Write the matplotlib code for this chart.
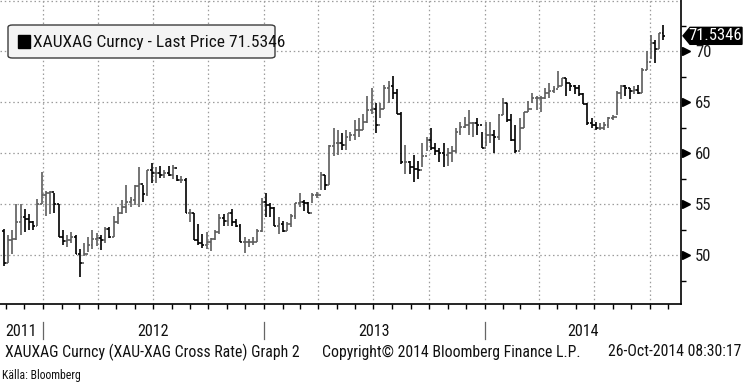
import numpy as np
import pandas as pd
import matplotlib
matplotlib.use("Agg")
import matplotlib.pyplot as plt
import matplotlib.dates as mdates
import matplotlib.transforms as mtransforms
from matplotlib.patches import FancyBboxPatch, Polygon, Rectangle
from matplotlib import font_manager


# weekly bars of the XAU/XAG cross rate, one per Friday
first_week = "2011-10-28"
last_week = "2014-10-24"
first_open = 52.4
last_price = 71.5346

highs = [52.6, 52.0, 52.5, 55.0, 55.0, 54.5, 54.1, 53.4, 55.5, 58.2,
         56.3, 56.3, 56.1, 55.0, 52.5, 52.0, 52.3, 52.0, 50.6, 51.2,
         51.8, 52.5, 52.2, 52.0, 52.8, 52.8, 53.9, 54.7, 55.4, 56.9,
         55.7, 56.9, 58.7, 56.9, 58.4, 59.1, 58.7, 58.8, 58.4, 58.8,
         58.9, 57.9, 57.8, 57.6, 54.5, 54.2, 53.1, 52.1, 52.3, 51.7,
         52.5, 54.1, 54.1, 54.2, 54.5, 53.6, 53.1, 51.8, 51.6, 51.8,
         52.6, 55.6, 56.1, 55.1, 54.7, 53.8, 53.4, 53.3, 54.1, 55.1,
         56.1, 55.4, 55.2, 56.1, 56.2, 58.2, 57.9, 60.8, 62.5, 62.3,
         62.0, 62.3, 62.1, 63.3, 63.5, 63.9, 65.6, 66.4, 64.9, 64.9,
         66.7, 67.1, 67.6, 66.3, 64.1, 60.8, 59.3, 59.8, 59.3, 61.0,
         61.6, 62.5, 61.0, 60.5, 61.0, 60.5, 60.7, 62.5, 63.1, 63.6,
         64.3, 63.1, 63.5, 62.1, 63.1, 63.1, 62.3, 63.9, 65.4, 64.9,
         63.9, 62.8, 63.5, 64.1, 65.1, 65.9, 65.6, 65.6, 66.4, 66.9,
         66.6, 68.1, 67.4, 67.4, 66.9, 66.7, 66.7, 65.9, 64.9, 63.5,
         63.1, 63.0, 63.1, 63.6, 63.8, 66.1, 66.7, 66.7, 66.4, 66.6,
         66.7, 68.4, 70.0, 71.6, 71.1, 71.8, 72.6]

lows = [49.0, 49.3, 50.1, 51.5, 52.0, 52.3, 52.5, 52.5, 52.9, 55.0,
        53.9, 54.1, 54.2, 51.8, 51.0, 50.8, 51.2, 50.1, 47.9, 49.9,
        50.3, 50.6, 50.9, 50.5, 51.2, 51.7, 51.8, 53.1, 54.1, 54.2,
        54.7, 54.9, 54.7, 55.2, 55.8, 57.1, 57.1, 57.6, 57.6, 57.8,
        57.5, 57.3, 57.1, 54.2, 53.3, 51.5, 51.0, 50.7, 50.6, 50.4,
        51.5, 52.1, 52.9, 52.9, 52.9, 52.8, 51.3, 50.2, 50.8, 51.0,
        51.3, 52.3, 53.8, 53.8, 52.9, 52.1, 52.3, 52.4, 52.8, 53.6,
        54.7, 54.4, 54.2, 55.1, 55.6, 56.4, 56.4, 56.9, 59.7, 59.8,
        60.3, 60.3, 61.2, 61.3, 61.6, 62.3, 63.0, 63.9, 62.0, 63.5,
        64.4, 64.9, 65.3, 63.9, 59.0, 58.0, 58.0, 57.2, 57.5, 58.7,
        60.2, 60.3, 59.8, 59.2, 58.7, 58.8, 59.2, 60.0, 61.8, 62.5,
        61.8, 61.6, 61.8, 60.5, 60.7, 61.0, 60.0, 61.3, 63.8, 63.1,
        61.2, 60.0, 60.3, 62.5, 64.1, 64.9, 64.3, 64.1, 65.3, 65.4,
        65.9, 66.4, 66.6, 65.6, 66.1, 65.8, 65.6, 64.8, 62.8, 62.5,
        62.3, 62.3, 62.3, 62.5, 63.3, 63.8, 65.3, 65.6, 65.3, 65.8,
        65.8, 65.9, 68.2, 69.3, 68.9, 70.2, 71.1]

closes = [49.3, 51.5, 51.6, 53.3, 53.8, 53.6, 53.3, 52.9, 55.0, 55.9,
          56.1, 56.2, 55.0, 51.8, 51.4, 51.5, 51.8, 50.1, 49.3, 50.1,
          51.0, 51.6, 51.7, 51.5, 52.6, 51.8, 53.3, 54.2, 54.7, 55.2,
          55.4, 56.8, 57.0, 56.0, 58.4, 58.1, 58.1, 57.9, 58.1, 57.9,
          58.6, 57.4, 57.4, 54.2, 54.2, 51.5, 51.2, 51.0, 51.3, 51.6,
          52.3, 53.7, 53.4, 54.2, 53.3, 52.9, 51.3, 51.3, 51.3, 51.3,
          52.4, 55.2, 54.9, 54.6, 52.9, 53.1, 52.4, 53.1, 53.9, 55.1,
          55.2, 55.1, 54.2, 55.9, 55.9, 57.9, 56.9, 60.7, 61.0, 61.0,
          60.8, 61.6, 61.8, 62.3, 62.3, 63.1, 64.3, 64.4, 62.8, 64.4,
          66.4, 66.6, 65.9, 63.9, 59.2, 59.2, 58.7, 58.5, 58.4, 59.7,
          61.3, 60.5, 60.2, 60.0, 59.8, 60.0, 60.2, 62.1, 62.6, 62.8,
          63.0, 63.0, 62.8, 60.5, 61.8, 61.8, 61.6, 63.8, 64.9, 63.3,
          61.3, 60.2, 62.5, 64.1, 64.4, 65.4, 65.4, 65.4, 65.9, 66.1,
          66.3, 66.6, 67.4, 66.9, 66.6, 66.4, 65.8, 64.8, 63.0, 62.8,
          62.5, 62.5, 62.8, 63.5, 63.6, 65.9, 66.6, 66.4, 66.1, 66.2,
          65.9, 68.2, 69.0, 70.8, 70.2, 71.8, 71.53]

year_labels = ["2011", "2012", "2013", "2014"]
legend_text = "XAUXAG Curncy - Last Price 71.5346"
footer_left = "XAUXAG Curncy (XAU-XAG Cross Rate) Graph 2"
footer_mid = "Copyright\u00a9 2014 Bloomberg Finance L.P."
footer_right = "26-Oct-2014 08:30:17"
source_text = "Källa: Bloomberg"


def pick_font(names):
    installed = {f.name for f in font_manager.fontManager.ttflist}
    for name in names:
        if name in installed:
            return name
    return "DejaVu Sans"


narrow = pick_font(["Liberation Sans Narrow", "Roboto Condensed", "Open Sans Condensed",
                    "Arial Narrow", "Liberation Sans"])

W, H = 747, 382
fig = plt.figure(figsize=(W / 100, H / 100), dpi=100)
fig.patch.set_facecolor("white")


def fx(px):
    return px / W


def fy(py):
    return 1 - py / H


ax = fig.add_axes([0, fy(304), fx(681), 304 / H])
ax.set_facecolor("white")

weeks = pd.date_range(first_week, last_week, freq="W-FRI")
x = mdates.date2num(weeks.to_pydatetime())
highs = np.array(highs)
lows = np.array(lows)
closes = np.array(closes)
opens = np.concatenate([[first_open], closes[:-1]])
colors = np.where(closes >= opens, "#5c5c5c", "#000000")

half = 3.2  # days, length of open/close ticks
ax.vlines(x, lows, highs, colors=colors, lw=1.2)
ax.hlines(opens, x - half, x, colors=colors, lw=1.2)
ax.hlines(closes, x, x + half, colors=colors, lw=1.2)

ax.set_xlim(mdates.datestr2num("2011-10-22"), mdates.datestr2num("2014-11-22"))
ax.set_ylim(45.23, 75.05)

# dotted grid
grid_kw = dict(color="#9c9c9c", lw=0.9, ls=(0, (1.2, 2.2)), zorder=0)
for level in range(50, 80, 5):
    ax.axhline(level, **grid_kw)
quarters = pd.date_range("2012-01-01", "2014-10-01", freq="QS")
for q in mdates.date2num(quarters.to_pydatetime()):
    ax.axvline(q, **grid_kw)

for side in ["left", "top"]:
    ax.spines[side].set_visible(False)
for side in ["right", "bottom"]:
    ax.spines[side].set_color("black")
    ax.spines[side].set_linewidth(1.2)

ax.xaxis.set_major_locator(mdates.MonthLocator())
ax.tick_params(axis="x", which="major", length=3.5, width=1, direction="out",
               color="black", labelbottom=False)

ax.yaxis.tick_right()
ax.set_yticks([50, 55, 60, 65, 70])
ax.set_yticks(np.arange(47.5, 75, 5), minor=True)
ax.tick_params(axis="y", which="major", length=0, pad=10, labelsize=12,
               labelcolor="#1a1a1a")
ax.tick_params(axis="y", which="minor", length=3.5, width=1, color="black",
               direction="out")
for lab in ax.get_yticklabels():
    lab.set_fontfamily(narrow)

# triangle markers at the major ticks
tri_tr = mtransforms.blended_transform_factory(ax.transAxes, ax.transData)
ax.plot(np.full(5, 1 + 5.0 / 681), [50, 55, 60, 65, 70], ls="none", marker=">",
        ms=5.5, color="black", transform=tri_tr, clip_on=False)

# last price flag
to_fig = fig.transFigure.inverted()
xd = ax.transAxes.transform((1, 0))[0]
yd = ax.transData.transform((x[-1], last_price))[1]
flag = [(xd + 2, yd), (xd + 9, yd + 8.5), (xd + 61, yd + 8.5),
        (xd + 61, yd - 8.5), (xd + 9, yd - 8.5)]
flag = to_fig.transform(flag)
fig.add_artist(Polygon(flag, closed=True, facecolor="black", edgecolor="black",
                       transform=fig.transFigure))
fig.text(to_fig.transform((xd + 34, yd))[0], to_fig.transform((xd, yd))[1],
         f"{last_price:.4f}", color="white", fontsize=12, family=narrow,
         ha="center", va="center")

# legend box
fig.add_artist(FancyBboxPatch((fx(8), fy(58)), fx(267), 33 / H,
                              boxstyle="round,pad=0,rounding_size=0.006",
                              facecolor="#f4f4f4", edgecolor="#3c3c3c", lw=1,
                              transform=fig.transFigure))
fig.add_artist(Rectangle((fx(18), fy(47.5)), fx(12), 12 / H, facecolor="black",
                         edgecolor="black", transform=fig.transFigure))
fig.text(fx(33), fy(42.5), legend_text, fontsize=12.5, family=narrow,
         ha="left", va="center", color="#111111")

# year labels under the axis, with separators at each new year
xmin, xmax = ax.get_xlim()
lab_tr = mtransforms.blended_transform_factory(ax.transData, fig.transFigure)
for i, year in enumerate(year_labels):
    start = max(mdates.datestr2num(f"{year}-01-01"), xmin)
    end = min(mdates.datestr2num(f"{int(year) + 1}-01-01"), xmax)
    ax.text((start + end) / 2, fy(331), year, transform=lab_tr, fontsize=11.5,
            family=narrow, ha="center", va="center", color="#111111")
    if i > 0:
        ax.plot([start, start], [fy(322), fy(339)], color="#666666", lw=0.9,
                transform=lab_tr, clip_on=False)

fig.text(fx(5), fy(352), footer_left, fontsize=11.3, family=narrow,
         ha="left", va="center", color="#111111")
fig.text(fx(322), fy(352), footer_mid, fontsize=11.3, family=narrow,
         ha="left", va="center", color="#111111")
fig.text(fx(741), fy(352), footer_right, fontsize=11.3, family=narrow,
         ha="right", va="center", color="#111111")
fig.text(fx(2), fy(376), source_text, fontsize=8.5, family=narrow,
         ha="left", va="center", color="#111111")

fig.savefig("out.png", dpi=100, facecolor="white")
